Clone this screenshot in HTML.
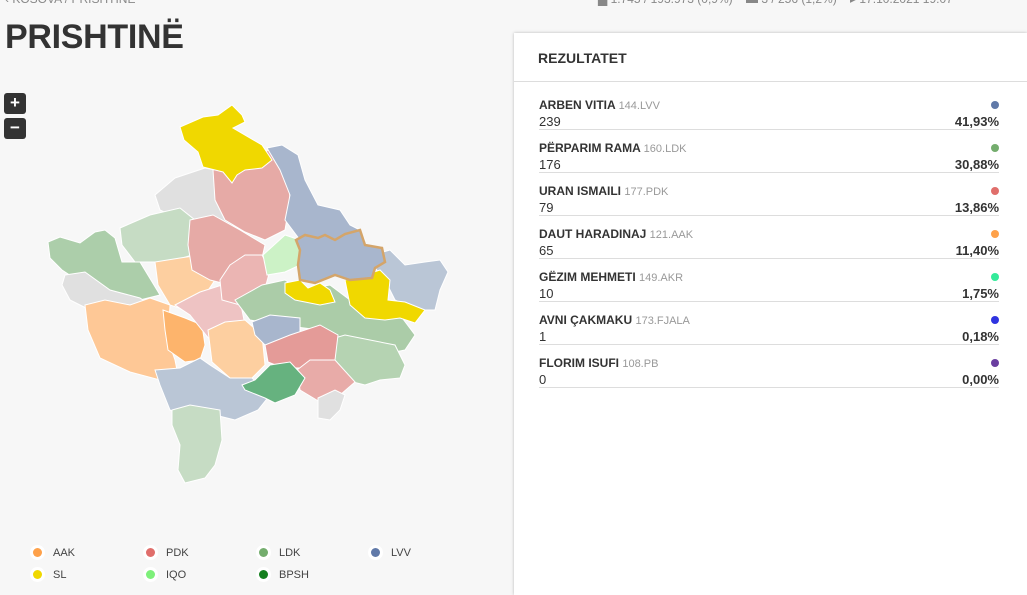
<!DOCTYPE html>
<html><head><meta charset="utf-8"><style>
html,body{overflow:hidden}
body{margin:0;width:1027px;height:595px;background:#f7f7f7;font-family:"Liberation Sans",sans-serif;position:relative;overflow:hidden;color:#333}
.top{position:absolute;top:-8px;font-size:12px;color:#888}
h1{position:absolute;left:5px;top:18px;margin:0;font-size:34px;font-weight:bold;color:#333;letter-spacing:-0.3px}
.zb{position:absolute;left:4px;width:22px;height:21px;background:#333;color:#fff;border-radius:3px;text-align:center;font-weight:bold;font-size:17px;line-height:20px}
.card{position:absolute;left:514px;top:33px;width:513px;height:562px;background:#fff;box-shadow:0 0 3px rgba(0,0,0,.25)}
.card h2{margin:0;position:absolute;left:24px;top:17px;font-size:14px;font-weight:bold;color:#333}
.hl{position:absolute;left:0;right:0;top:48px;border-top:1px solid #ddd}
.row{position:absolute;left:25px;width:460px;height:31px;border-bottom:1px solid #ddd}
.nm{position:absolute;top:0;left:0;font-size:12px;font-weight:bold;color:#333}
.nm span{font-weight:normal;color:#999;font-size:11px}
.v{position:absolute;top:16px;left:0;font-size:13px;color:#333}
.p{position:absolute;top:16px;right:0;font-size:13px;font-weight:bold;color:#333}
.d{position:absolute;top:3px;right:0;width:8px;height:8px;border-radius:50%}
.lg{position:absolute;font-size:11px;color:#444}
.lg i{position:absolute;left:-20px;top:1px;width:9px;height:9px;border-radius:50%;box-shadow:0 0 0 3px #fff}
</style></head><body>
<div class="top" style="left:5px">‹ KOSOVA / PRISHTINË</div>
<div class="top" style="left:598px">▆ 1.745 / 193.973 (0,9%) &nbsp;&nbsp; ▬ 3 / 256 (1,2%) &nbsp;&nbsp; ▸ 17.10.2021 19:07</div>
<h1>PRISHTINË</h1>
<div class="zb" style="top:93px">+</div>
<div class="zb" style="top:118px">−</div>
<svg width="470" height="500" style="position:absolute;left:0;top:0" stroke="#fff" stroke-width="1">
<polygon fill="#e0e0e0" points="155,195 175,178 205,168 240,175 247,200 235,225 215,232 185,222 160,210"/>
<polygon fill="#c6dcc4" points="120,228 150,215 180,208 195,220 192,255 170,262 135,262 122,245"/>
<polygon fill="#acceaa" points="48,242 60,237 80,243 95,232 105,230 115,238 122,262 140,262 160,295 140,300 110,295 85,285 62,270 50,258"/>
<polygon fill="#e0e0e0" points="65,275 85,272 110,290 140,298 150,305 130,325 115,315 90,310 70,300 62,285"/>
<polygon fill="#fec896" points="85,305 105,300 130,305 150,298 170,305 168,340 175,360 178,375 160,380 130,372 100,358 88,330"/>
<polygon fill="#fdb46c" points="163,310 185,318 202,325 205,345 200,360 185,362 168,350 165,330"/>
<polygon fill="#fdcfa0" points="155,262 180,258 200,255 215,280 205,295 185,310 170,305 158,285"/>
<polygon fill="#e6aaa6" points="190,220 213,215 240,230 265,245 258,275 230,285 210,280 192,270 188,245"/>
<polygon fill="#eec3c3" points="175,305 200,292 222,285 240,300 245,325 230,335 210,340 190,315"/>
<polygon fill="#fdcfa0" points="208,330 225,322 245,320 262,335 265,365 250,380 230,378 212,362"/>
<polygon fill="#bac6d6" points="155,370 180,368 200,358 210,365 230,378 252,378 270,395 258,410 235,420 215,415 190,420 170,410 160,385"/>
<polygon fill="#c6dcc4" points="172,410 190,405 220,410 222,440 215,465 205,478 185,483 178,470 180,445 172,425"/>
<polygon fill="#e6aaa6" points="213,170 230,165 255,160 268,150 288,165 290,200 285,230 265,240 245,232 225,220 215,200"/>
<polygon fill="#ebb5b3" points="230,265 245,255 262,255 270,270 262,300 240,305 222,300 220,280"/>
<polygon fill="#a8b6cd" points="267,148 282,145 290,150 298,155 305,180 318,205 340,210 350,225 360,230 365,240 345,240 300,240 285,220 290,195 280,170"/>
<polygon fill="#ccf2c6" points="263,255 285,235 300,240 300,265 285,272 267,275"/>
<polygon fill="#abcca8" points="235,300 262,285 285,280 300,290 330,285 350,300 380,300 400,315 415,335 405,350 380,355 345,340 320,330 280,325 250,320"/>
<polygon fill="#b5d3b2" points="328,340 345,335 370,340 395,345 405,365 400,378 380,380 365,385 345,380 330,365"/>
<polygon fill="#a8b6cd" points="252,322 270,315 300,318 300,335 285,345 265,345 255,335"/>
<polygon fill="#e49b98" points="265,345 290,335 320,325 338,335 335,360 305,368 283,368 268,362"/>
<polygon fill="#e8aba8" points="297,370 310,360 335,360 355,382 340,395 320,402 300,390"/>
<polygon fill="#e0e0e0" points="318,398 335,390 345,395 340,410 330,420 318,418"/>
<polygon fill="#66b27f" points="242,385 255,380 270,365 290,362 305,378 295,395 275,403 265,398 245,390"/>
<polygon fill="#bac6d6" points="373,255 390,250 405,265 425,262 440,260 448,272 440,290 435,310 415,310 395,300 385,280 375,268"/>
<polygon fill="#f0d800" points="285,283 300,280 308,288 320,283 330,290 335,302 320,305 305,302 295,300 285,293"/>
<polygon fill="#f0d800" points="345,280 365,275 380,270 390,280 388,300 405,302 425,310 415,323 400,318 385,320 365,318 350,305"/>
<polygon fill="#a8b6cd" stroke="#d4a56a" stroke-width="2.5" points="296,240 305,235 318,238 325,235 335,240 345,234 360,230 365,245 382,248 385,262 375,268 372,278 350,280 335,275 315,283 300,280 298,265 300,250"/>
<polygon fill="#f0d800" points="180,127 203,117 218,115 225,110 232,105 242,115 245,122 233,128 262,145 272,160 262,168 245,170 237,175 232,183 223,172 203,167 198,152 184,140"/>
</svg>
<div class="card">
<h2>REZULTATET</h2><div class="hl"></div>
<div class="row" style="top:65px"><div class="nm">ARBEN VITIA <span>144.LVV</span></div><div class="d" style="background:#6079a8"></div><div class="v">239</div><div class="p">41,93%</div></div>
<div class="row" style="top:108px"><div class="nm">PËRPARIM RAMA <span>160.LDK</span></div><div class="d" style="background:#74ad6d"></div><div class="v">176</div><div class="p">30,88%</div></div>
<div class="row" style="top:151px"><div class="nm">URAN ISMAILI <span>177.PDK</span></div><div class="d" style="background:#e06e6b"></div><div class="v">79</div><div class="p">13,86%</div></div>
<div class="row" style="top:194px"><div class="nm">DAUT HARADINAJ <span>121.AAK</span></div><div class="d" style="background:#fea14a"></div><div class="v">65</div><div class="p">11,40%</div></div>
<div class="row" style="top:237px"><div class="nm">GËZIM MEHMETI <span>149.AKR</span></div><div class="d" style="background:#34ea9a"></div><div class="v">10</div><div class="p">1,75%</div></div>
<div class="row" style="top:280px"><div class="nm">AVNI ÇAKMAKU <span>173.FJALA</span></div><div class="d" style="background:#2f33e0"></div><div class="v">1</div><div class="p">0,18%</div></div>
<div class="row" style="top:323px"><div class="nm">FLORIM ISUFI <span>108.PB</span></div><div class="d" style="background:#6a3ea0"></div><div class="v">0</div><div class="p">0,00%</div></div>
</div>
<div class="lg" style="left:53px;top:547px"><i style="background:#fea14a"></i>AAK</div>
<div class="lg" style="left:166px;top:547px"><i style="background:#e06e6b"></i>PDK</div>
<div class="lg" style="left:279px;top:547px"><i style="background:#74ad6d"></i>LDK</div>
<div class="lg" style="left:391px;top:547px"><i style="background:#6079a8"></i>LVV</div>
<div class="lg" style="left:53px;top:569px"><i style="background:#f0d800"></i>SL</div>
<div class="lg" style="left:166px;top:569px"><i style="background:#7ef07a"></i>IQO</div>
<div class="lg" style="left:279px;top:569px"><i style="background:#15801f"></i>BPSH</div>
</body></html>
